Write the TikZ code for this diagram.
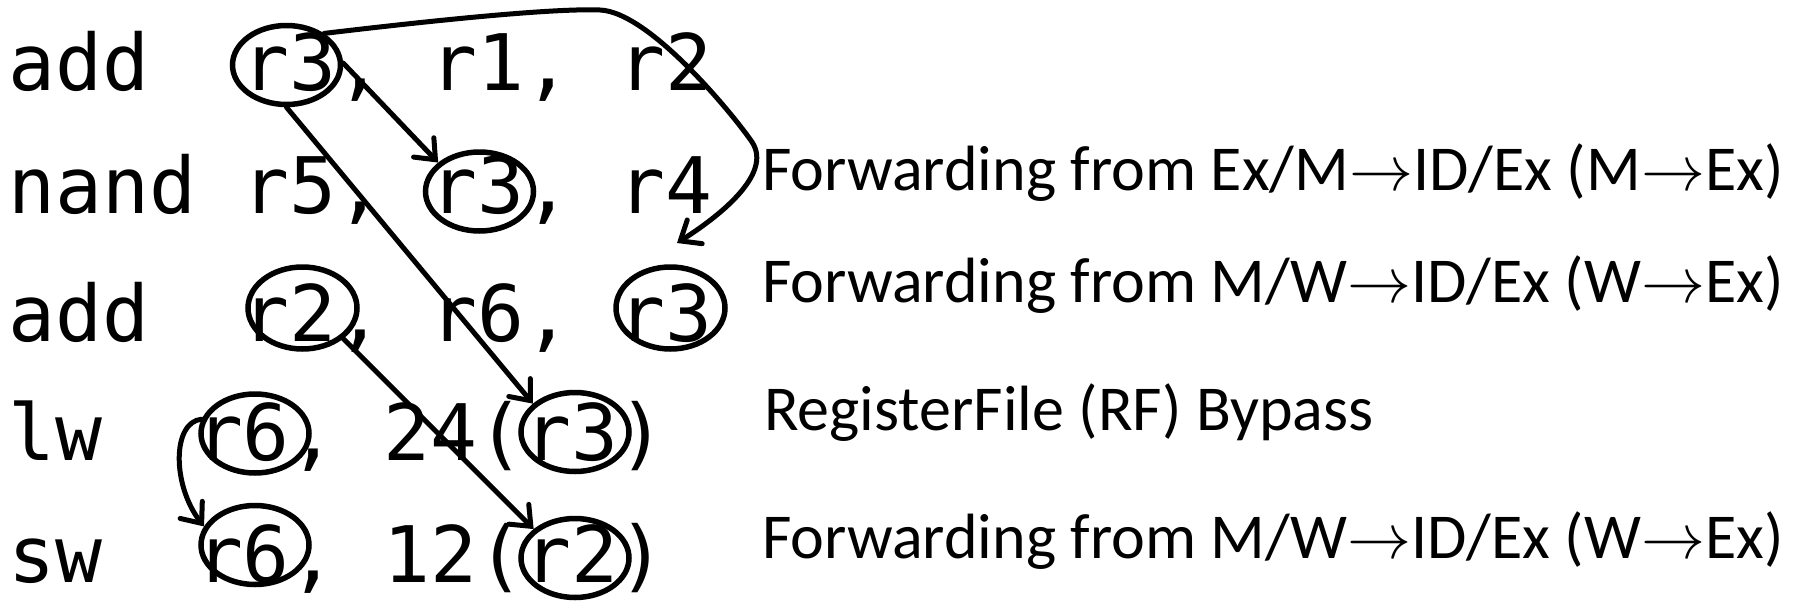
\documentclass[tikz,border=0pt]{standalone}
\usepackage{fix-cm}
\usepackage{fontspec}
\newfontfamily\codefont{DejaVu Sans Mono}
\newfontfamily\labelfont{Carlito}
\usetikzlibrary{shapes.geometric,arrows.meta}
\begin{document}
\begin{tikzpicture}[x=1pt,y=-1pt,
  code/.style={anchor=base west, inner sep=0pt, font=\codefont\fontsize{78}{80}\selectfont},
  lbl/.style={anchor=base west, inner sep=0pt, font=\labelfont\fontsize{64}{70}\selectfont},
  reg/.style={draw, ellipse, line width=5.5pt, inner sep=0pt, minimum width=108pt, minimum height=79pt},
  fwd/.style={line width=5pt, line cap=round, -{Straight Barb[length=17pt,width=28pt,line cap=round]}}]
\useasboundingbox (0,0) rectangle (1797,600);
% code lines
\node[code] (c1) at (8,90)  {add~~r3, r1, r2};
\node[code] (c2) at (8,213) {nand r5, r3, r4};
\node[code] (c3) at (8,341) {add~~r2, r6, r3};
\node[code] (c4) at (8,460) {lw~~r6, 24(r3)};
\node[code] (c5) at (8,582) {sw~~r6, 12(r2)};
% labels
\node[lbl] (t1) at (762,190) {Forwarding from Ex/M$\rightarrow$ID/Ex (M$\rightarrow$Ex)};
\node[lbl] (t2) at (762,302) {Forwarding from M/W$\rightarrow$ID/Ex (W$\rightarrow$Ex)};
\node[lbl] (t3) at (764,430) {RegisterFile (RF) Bypass};
\node[lbl] (t4) at (762,558) {Forwarding from M/W$\rightarrow$ID/Ex (W$\rightarrow$Ex)};
% register ellipses
\node[reg] (e1) at (286.5,65) {};
\node[reg] (e2) at (479.5,191.5) {};
\node[reg, minimum width=109pt, minimum height=82pt] (e3) at (302.5,308) {};
\node[reg, minimum width=109pt, minimum height=82pt] (e4) at (670.5,308) {};
\node[reg] (e5) at (255,433.5) {};
\node[reg] (e6) at (575,432) {};
\node[reg] (e7) at (255,545) {};
\node[reg] (e8) at (575,558) {};
\coordinate (tip) at (677,243);
% connectors
\draw[fwd] (e1.2) -- (e2.145);
\draw[fwd] (e1.south) -- (e6.146);
\draw[fwd] (e3.-37) -- (e8.145);
\draw[fwd] (e5.165) .. controls (172,422) and (172,485) .. (e7.160);
\draw[fwd] (e1.40) .. controls (420,22) and (550,8) .. (600,10)
  .. controls (650,12) and (735,117) .. (752,142)
  .. controls (774,175) and (715,219) .. (tip);
\end{tikzpicture}
\end{document}
